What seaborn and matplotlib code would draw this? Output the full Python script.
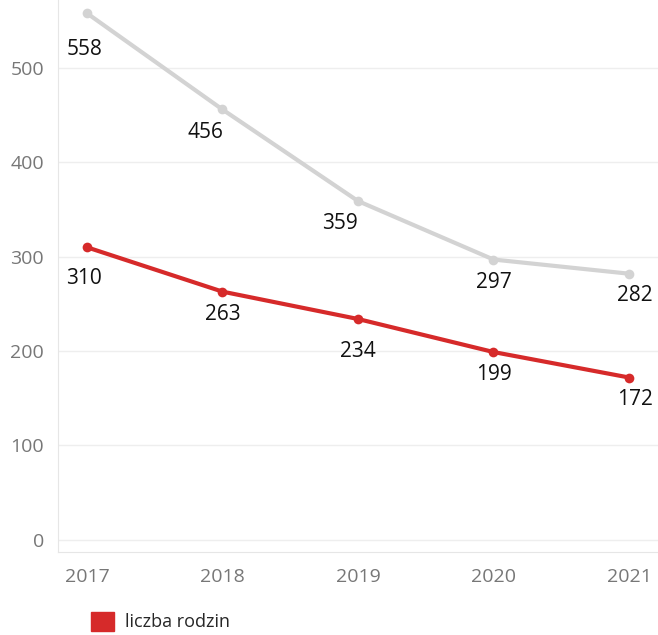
import matplotlib
matplotlib.use("Agg")
import matplotlib.pyplot as plt
import seaborn as sns
import pandas as pd
from matplotlib.patches import Patch
from matplotlib.ticker import MultipleLocator

years = [2017, 2018, 2019, 2020, 2021]
total = [558, 456, 359, 297, 282]
rodziny = [310, 263, 234, 199, 172]

# label offsets in pixels (dx, dy-down)
total_off = [(-2, 36), (-17, 23), (-18, 22), (0, 23), (6, 22)]
rodziny_off = [(-3, 31), (0, 23), (0, 33), (0, 22), (6, 22)]

sns.set_style("white")
plt.rcParams["font.family"] = ["Open Sans", "DejaVu Sans"]

df = pd.DataFrame({"rok": years, "ogolem": total, "rodziny": rodziny})

fig = plt.figure(figsize=(6.58, 6.35), dpi=100)
ax = fig.add_axes([0.088, 0.131, 0.912, 0.869])

sns.lineplot(data=df, x="rok", y="ogolem", ax=ax, color="#d3d3d3",
             linewidth=3, marker="o", markersize=7, markeredgewidth=0)
sns.lineplot(data=df, x="rok", y="rodziny", ax=ax, color="#d62a2a",
             linewidth=3, marker="o", markersize=7, markeredgewidth=0)

for vals, offs in [(total, total_off), (rodziny, rodziny_off)]:
    for x, y, (dx, dy) in zip(years, vals, offs):
        ax.annotate(str(y), (x, y), xytext=(dx * 0.72, -dy * 0.72),
                    textcoords="offset points", ha="center", va="center",
                    fontsize=15, color="#111111")

ax.set_xlim(2016.786, 2021.214)
ax.set_ylim(-12.7, 572)
ax.set_xticks(years)
ax.set_xticklabels([str(y) for y in years])
ax.xaxis.set_minor_locator(MultipleLocator(0.25))
ax.set_yticks([0, 100, 200, 300, 400, 500])
ax.grid(axis="y", color="#eeeeee", linewidth=1)
ax.set_xlabel("")
ax.set_ylabel("")

for side in ["top", "right"]:
    ax.spines[side].set_visible(False)
for side in ["left", "bottom"]:
    ax.spines[side].set_color("#e6e6e6")
ax.tick_params(axis="both", which="both", colors="#e0e0e0", labelcolor="#777777",
               labelsize=14)
ax.tick_params(axis="x", which="major", length=6, pad=6)
ax.tick_params(axis="x", which="minor", length=4)
ax.tick_params(axis="y", length=0, pad=10)

fig.legend(handles=[Patch(color="#d62a2a", label="liczba rodzin")],
           loc="lower left", bbox_to_anchor=(0.114, -0.02), frameon=False,
           fontsize=13, handlelength=1.25, handleheight=1.25, handletextpad=0.6)

fig.savefig("out.png", dpi=100)
